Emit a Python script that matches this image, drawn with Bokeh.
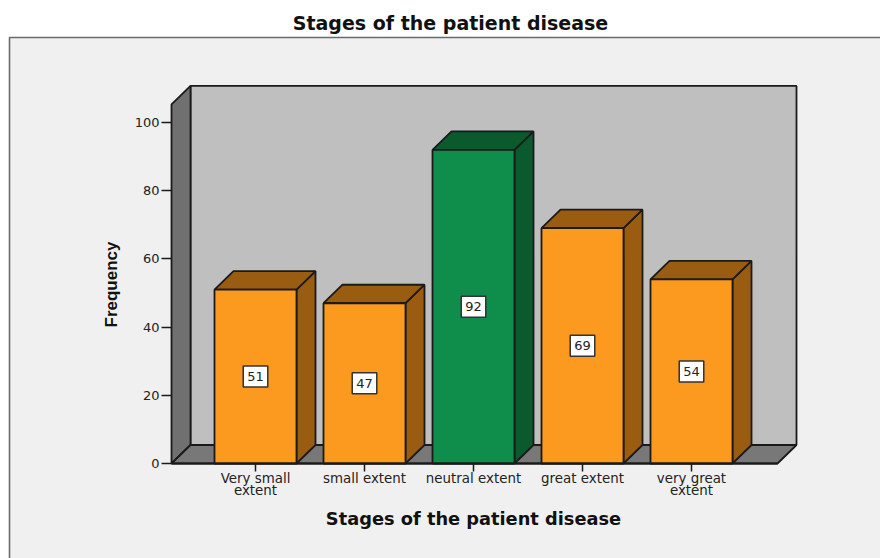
import math

from bokeh.embed import file_html
from bokeh.resources import INLINE
from bokeh.plotting import figure
from bokeh.models import BoxAnnotation, FixedTicker, Label, Range1d

categories = ["Very small\nextent", "small extent", "neutral extent",
              "great extent", "very great\nextent"]
frequencies = [51, 47, 92, 69, 54]
front_colors = ["#FB9A1F", "#FB9A1F", "#0F8D4A", "#FB9A1F", "#FB9A1F"]
shade_colors = ["#9A5C10", "#9A5C10", "#0A5A2D", "#9A5C10", "#9A5C10"]
y_ticks = [0, 20, 40, 60, 80, 100]
chart_title = "Stages of the patient disease"
x_title = "Stages of the patient disease"
y_title = "Frequency"

# Page geometry in pixels
W, H = 880, 558
LEFT, BASE = 171, 463
PX_PER_CAT, PX_PER_UNIT = 109.0, 3.41
FIRST_CENTER = 255


def xd(px):
    """Page x in pixels to data units."""
    return (px - FIRST_CENTER) / PX_PER_CAT


def yd(px):
    """Page y in pixels (down from the top) to data units."""
    return (BASE - px) / PX_PER_UNIT


DX = 19 / PX_PER_CAT     # depth of the 3D box along x, in data units
DY = 18.5 / PX_PER_UNIT  # depth of the 3D box along y, in data units
HALF = 41 / PX_PER_CAT   # half the bar width
AXIS_TOP = 105.3         # wall height at the front edge
FLOOR_RIGHT = xd(777)
X0 = xd(LEFT)
STROKE = "#1a1a1a"
LW = 1.8

p = figure(width=W, height=H, output_backend="svg", toolbar_location=None,
           x_range=Range1d(xd(0), xd(W)), y_range=Range1d(yd(H), yd(0)),
           min_border=0)
p.border_fill_color = "white"
p.background_fill_color = "white"
p.outline_line_color = None
p.grid.visible = False

# Chart panel, running off the right and bottom of the page
p.add_layout(BoxAnnotation(left=xd(9), right=xd(W + 10), top=yd(37), bottom=yd(H + 10),
                           fill_color="#F0F0F0", fill_alpha=1,
                           line_color="#6a6a6a", line_alpha=1, line_width=1.6,
                           level="underlay"))

# Back wall, side wall and floor of the box
p.patch([X0 + DX, FLOOR_RIGHT + DX, FLOOR_RIGHT + DX, X0 + DX],
        [DY, DY, AXIS_TOP + DY, AXIS_TOP + DY],
        fill_color="#BFBFBF", line_color=STROKE, line_width=LW)
p.patch([X0, X0 + DX, X0 + DX, X0],
        [0, DY, AXIS_TOP + DY, AXIS_TOP],
        fill_color="#707070", line_color=STROKE, line_width=LW)
p.patch([X0, X0 + DX, FLOOR_RIGHT + DX, FLOOR_RIGHT],
        [0, DY, DY, 0],
        fill_color="#787878", line_color=STROKE, line_width=LW)

# Bars: front face, top face and right-hand face
for i, (v, front, shade) in enumerate(zip(frequencies, front_colors, shade_colors)):
    l, r = i - HALF, i + HALF
    p.patch([r, r + DX, r + DX, r], [0, DY, v + DY, v],
            fill_color=shade, line_color=STROKE, line_width=LW)
    p.patch([l, l + DX, r + DX, r], [v, v + DY, v + DY, v],
            fill_color=shade, line_color=STROKE, line_width=LW)
    p.patch([l, r, r, l], [0, 0, v, v],
            fill_color=front, line_color=STROKE, line_width=LW)

# Value labels centred on each bar's front face
for i, v in enumerate(frequencies):
    p.add_layout(Label(x=i, y=v / 2, text=str(v),
                       text_align="center", text_baseline="middle",
                       text_font="DejaVu Sans", text_font_size="13px",
                       text_color="#222222", padding=(4, 6),
                       background_fill_color="white",
                       border_line_color="#333333", border_line_width=1.5))

# Axes sit inside the full-page frame at fixed data positions
ya = p.yaxis[0]
ya.fixed_location = X0
ya.ticker = FixedTicker(ticks=y_ticks)
ya.bounds = (0, 100)
ya.axis_line_color = None
ya.major_tick_line_color = STROKE
ya.major_tick_line_width = 1.5
ya.major_tick_out = 10
ya.major_tick_in = 0
ya.minor_tick_line_color = None
ya.major_label_text_font = "DejaVu Sans"
ya.major_label_text_font_size = "13px"
ya.major_label_text_color = "#222222"
ya.major_label_standoff = 2

xa = p.xaxis[0]
xa.fixed_location = 0
xa.ticker = FixedTicker(ticks=list(range(len(categories))))
xa.major_label_overrides = {i: c for i, c in enumerate(categories)}
xa.bounds = (X0, FLOOR_RIGHT)
xa.axis_line_color = STROKE
xa.axis_line_width = LW
xa.major_tick_line_color = STROKE
xa.major_tick_line_width = 1.5
xa.major_tick_out = 8
xa.major_tick_in = 0
xa.minor_tick_line_color = None
xa.major_label_text_font = "DejaVu Sans"
xa.major_label_text_font_size = "13.4px"
xa.major_label_text_color = "#222222"
xa.major_label_text_line_height = 0.8
xa.major_label_standoff = -1

# Titles
p.add_layout(Label(x=xd(450), y=yd(22), text=chart_title,
                   text_align="center", text_baseline="middle",
                   text_font="DejaVu Sans", text_font_size="19px",
                   text_font_style="bold", text_color="#111111"))
p.add_layout(Label(x=2, y=yd(518), text=x_title,
                   text_align="center", text_baseline="middle",
                   text_font="DejaVu Sans", text_font_size="17.8px",
                   text_font_style="bold", text_color="#111111"))
p.add_layout(Label(x=xd(111), y=yd(284), text=y_title, angle=math.pi / 2,
                   text_align="center", text_baseline="middle",
                   text_font="Liberation Sans", text_font_size="17px",
                   text_font_style="bold", text_color="#111111"))

open("out.html", "w").write(file_html(p, INLINE))
